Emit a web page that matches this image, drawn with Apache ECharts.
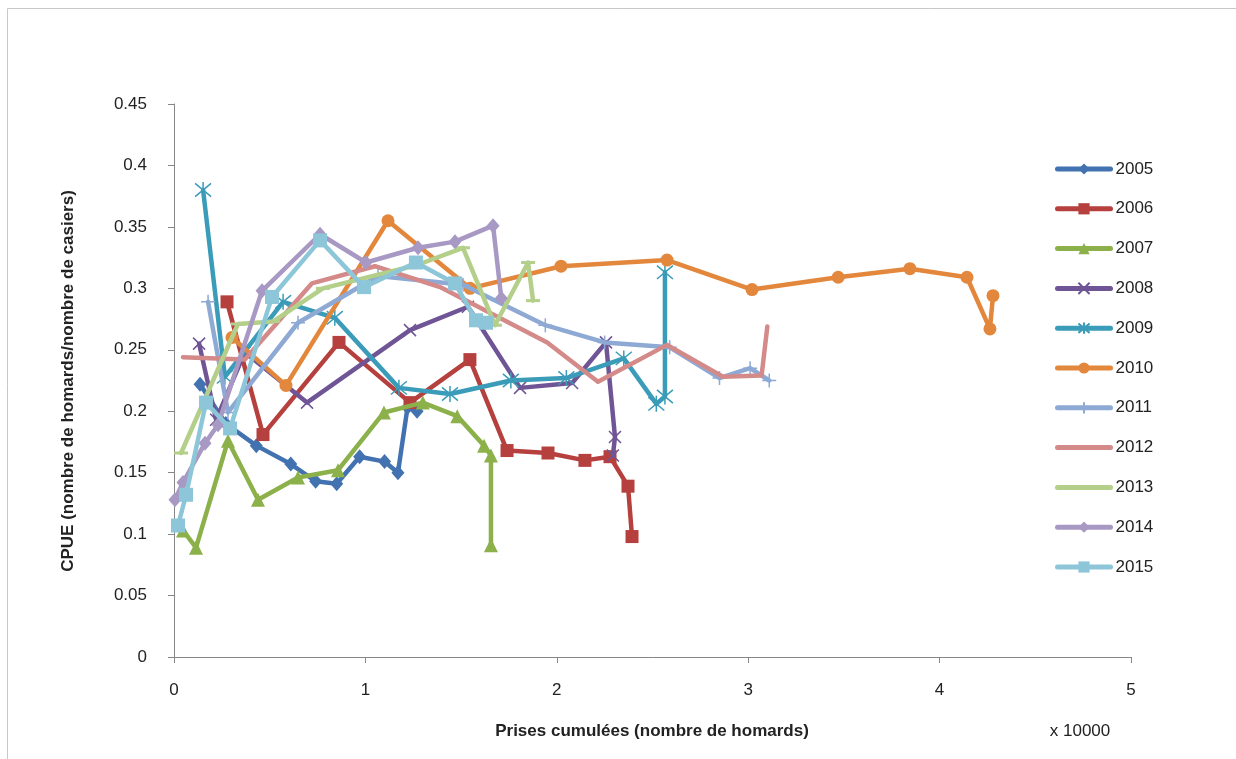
<!DOCTYPE html>
<html>
<head>
<meta charset="utf-8">
<script src="https://cdn.jsdelivr.net/npm/echarts@6/dist/echarts.min.js"></script>
<style>
html,body{margin:0;padding:0;background:#fff;}
#chart{width:1236px;height:759px;}
</style>
</head>
<body>
<div id="chart"></div>
<script>
// Years (legend)
const years = ['2005','2006','2007','2008','2009','2010','2011','2012','2013','2014','2015'];
// Axis ticks
const yTicks = [0,0.05,0.1,0.15,0.2,0.25,0.3,0.35,0.4,0.45];
const xTicks = [0,1,2,3,4,5];
// Data: [cumulative catch (x 10000), CPUE]
const d2005 = [[0.136,0.222],[0.27,0.19],[0.43,0.172],[0.61,0.157],[0.74,0.143],[0.85,0.141],[0.97,0.163],[1.10,0.159],[1.17,0.150],[1.22,0.203],[1.27,0.200]];
const d2006 = [[0.277,0.289],[0.465,0.181],[0.862,0.256],[1.233,0.207],[1.546,0.242],[1.74,0.168],[1.954,0.166],[2.147,0.160],[2.278,0.163],[2.372,0.139],[2.393,0.098]];
const d2007 = [[0.047,0.103],[0.115,0.089],[0.282,0.176],[0.439,0.128],[0.648,0.146],[0.857,0.152],[1.097,0.199],[1.30,0.207],[1.48,0.196],[1.62,0.172],[1.656,0.164],[1.656,0.091]];
const d2008 = [[0.131,0.255],[0.22,0.193],[0.37,0.248],[0.695,0.207],[1.233,0.266],[1.536,0.285],[1.808,0.219],[2.08,0.223],[2.257,0.256],[2.304,0.179],[2.293,0.164]];
const d2009 = [[0.152,0.380],[0.266,0.228],[0.57,0.289],[0.84,0.276],[1.175,0.219],[1.442,0.214],[1.76,0.225],[2.05,0.227],[2.35,0.243],[2.52,0.206],[2.565,0.212],[2.565,0.313]];
const d2010 = [[0.303,0.260],[0.585,0.221],[1.118,0.355],[1.547,0.300],[2.022,0.318],[2.576,0.323],[3.02,0.299],[3.47,0.309],[3.845,0.316],[4.143,0.309],[4.263,0.267],[4.279,0.294]];
const d2011 = [[0.178,0.289],[0.282,0.199],[0.648,0.272],[1.066,0.310],[1.51,0.303],[1.94,0.270],[2.25,0.256],[2.59,0.252],[2.85,0.227],[3.01,0.235],[3.11,0.225]];
const d2012 = [[0.047,0.244],[0.37,0.242],[0.72,0.304],[1.05,0.318],[1.39,0.301],[1.95,0.256],[2.215,0.224],[2.576,0.254],[2.868,0.228],[3.07,0.229],[3.10,0.269]];
const d2013 = [[0.037,0.166],[0.334,0.271],[0.517,0.273],[0.778,0.300],[1.27,0.319],[1.51,0.333],[1.677,0.270],[1.85,0.321],[1.876,0.290]];
const d2014 = [[0.005,0.128],[0.047,0.142],[0.162,0.174],[0.23,0.189],[0.46,0.298],[0.763,0.344],[1.003,0.321],[1.275,0.333],[1.468,0.338],[1.667,0.351],[1.71,0.292]];
const d2015 = [[0.021,0.107],[0.063,0.132],[0.167,0.207],[0.293,0.186],[0.512,0.293],[0.763,0.339],[0.993,0.301],[1.264,0.321],[1.468,0.304],[1.578,0.274],[1.63,0.272]];

const allData = [d2005,d2006,d2007,d2008,d2009,d2010,d2011,d2012,d2013,d2014,d2015];
const colors = ['#4272B0','#B5403D','#8CB04A','#6F5596','#3A9CB8','#E3873D','#8DA9D4','#D38A89','#B4CF8A','#A898C4','#8CC6D8'];

const X_PATH = 'path://M0,0L10,10M10,0L0,10';
const AST_PATH = 'path://M0,0L10,10M10,0L0,10M5,-1L5,11';
const PLUS_PATH = 'path://M5,0L5,10M0,5L10,5';

const symbols = [
  {symbol:'diamond', size:[13,15]},
  {symbol:'rect', size:13},
  {symbol:'triangle', size:14},
  {symbol:X_PATH, size:12, stroke:true},
  {symbol:AST_PATH, size:16, stroke:true},
  {symbol:'circle', size:13},
  {symbol:PLUS_PATH, size:14, stroke:true},
  {symbol:'circle', size:2, hidden:true},
  {symbol:'path://M0,0L10,0L10,1.5L0,1.5Z', size:[14,3]},
  {symbol:'diamond', size:[13,15]},
  {symbol:'rect', size:14}
];

const series = years.map((y,i)=>{
  const s = symbols[i];
  let item;
  if (s.hidden) item = {color:'rgba(0,0,0,0)', borderWidth:0};
  else if (s.stroke) item = {color:'rgba(0,0,0,0)', borderColor:colors[i], borderWidth:1.5};
  else item = {color:colors[i]};
  return {
    name:y, type:'line', data:allData[i],
    symbol:s.symbol, symbolSize:s.size, showSymbol:true,
    lineStyle:{color:colors[i], width:4.5, cap:'round', join:'round'},
    itemStyle:item,
    emphasis:{disabled:true},
    animation:false,
    z:2+i
  };
});

const legendData = years.map((y,i)=>{
  if (i===7 || i===8) return {name:y, itemStyle:{color:'rgba(0,0,0,0)', borderWidth:0}};
  if (i===6) return {name:y, icon:'path://M0,0L0.001,0', itemStyle:{color:colors[i]}};
  return {name:y};
});
legendData[6] = {name:'2011'};

const chart = echarts.init(document.getElementById('chart'), null, {renderer:'canvas'});
chart.setOption({
  backgroundColor:'#ffffff',
  color:colors,
  animation:false,
  grid:{left:174, right:105, top:104, bottom:102, containLabel:false},
  xAxis:{
    type:'value', min:0, max:5, interval:1,
    axisLine:{show:true, lineStyle:{color:'#868686', width:1}},
    axisTick:{show:true, length:6, lineStyle:{color:'#868686'}},
    axisLabel:{color:'#222', fontSize:17, fontFamily:'Liberation Sans', margin:25},
    splitLine:{show:false}
  },
  yAxis:{
    type:'value', min:0, max:0.45, interval:0.05,
    axisLine:{show:true, lineStyle:{color:'#868686', width:1}},
    axisTick:{show:true, length:6, lineStyle:{color:'#868686'}},
    axisLabel:{color:'#222', fontSize:17, fontFamily:'Liberation Sans', margin:27},
    splitLine:{show:false}
  },
  legend:{
    orient:'vertical', left:1055, top:159, padding:0,
    itemWidth:53, itemHeight:14, itemGap:19.8,
    data:legendData,
    lineStyle:{width:5, cap:'round'},
    textStyle:{color:'#222', fontSize:17, fontFamily:'Liberation Sans', lineHeight:20},
    selectedMode:false
  },
  graphic:[
    {type:'rect', shape:{x:7.5,y:8.5,width:1240,height:760}, style:{fill:'none', stroke:'#c8c8c8', lineWidth:1}, silent:true},
    {type:'text', x:652, y:731, style:{text:'Prises cumulées (nombre de homards)', font:'bold 17px "Liberation Sans"', fill:'#222', textAlign:'center', textVerticalAlign:'middle'}},
    {type:'text', x:1080, y:731, style:{text:'x 10000', font:'17px "Liberation Sans"', fill:'#222', textAlign:'center', textVerticalAlign:'middle'}},
    {type:'text', x:68, y:381, rotation:Math.PI/2, style:{text:'CPUE (nombre de homards/nombre de casiers)', font:'bold 17px "Liberation Sans"', fill:'#222', textAlign:'center', textVerticalAlign:'middle'}}
  ],
  series:series
});
</script>
</body>
</html>
